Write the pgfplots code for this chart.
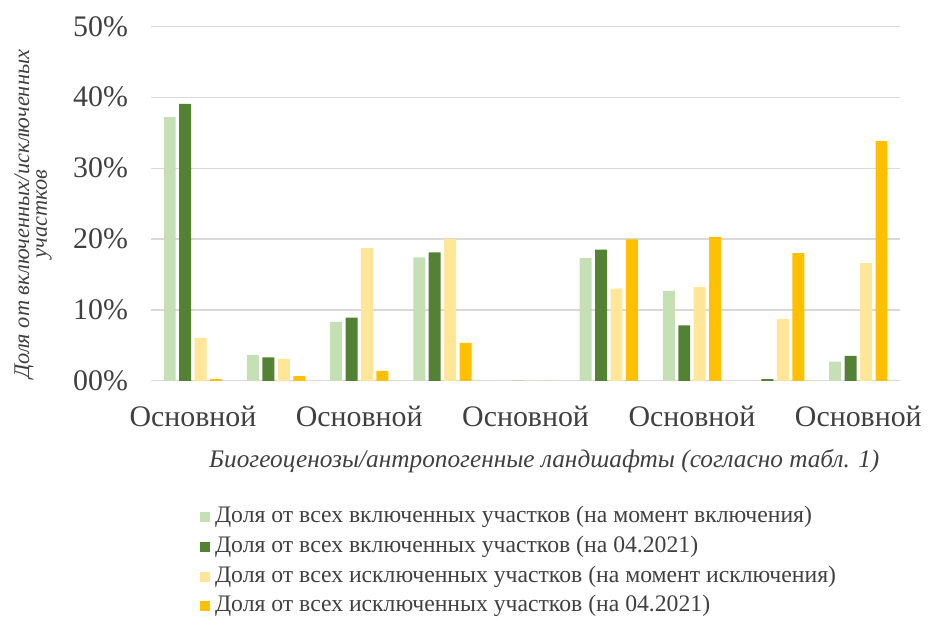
\documentclass[border=0pt]{standalone}
\usepackage{pgfplots}
\pgfplotsset{compat=1.18}
\usepackage{fontspec}
\setmainfont{Liberation Serif}
\definecolor{lgreen}{HTML}{C5E0B4}
\definecolor{dgreen}{HTML}{548235}
\definecolor{lyellow}{HTML}{FFE699}
\definecolor{gold}{HTML}{FFC000}
\definecolor{txt}{HTML}{404040}
\definecolor{gridc}{HTML}{D9D9D9}
\begin{document}
\begin{tikzpicture}
\begin{axis}[
  scale only axis,
  width=752pt, height=356pt,
  ybar=3.5pt, bar width=12pt,
  xmin=-0.5, xmax=8.5, ymin=0, ymax=50,
  xtick={0,2,4,6,8},
  xticklabels={Основной,Основной,Основной,Основной,Основной},
  ytick={0,10,20,30,40,50},
  yticklabels={00\%,10\%,20\%,30\%,40\%,50\%},
  tick style={draw=none},
  axis line style={draw=none},
  xmajorgrids=false, ymajorgrids=true,
  grid style={draw=gridc, line width=1.2pt},
  tick label style={text=txt, font=\fontsize{30}{31}\selectfont},
  yticklabel style={xshift=-20pt},
  xticklabel style={yshift=-18pt},
  every axis x label/.style={at={(axis description cs:0.525,0)}, anchor=center, yshift=-81pt, font=\itshape\fontsize{25.4}{27}\selectfont, text=txt},
  every axis y label/.style={at={(axis description cs:-0.158,0.47)}, rotate=90, anchor=center, align=center, font=\itshape\fontsize{22.5}{18}\selectfont, text=txt},
  xlabel={Биогеоценозы/антропогенные ландшафты (согласно табл. 1)},
  ylabel={Доля от включенных/исключенных\\участков},
  legend style={at={(axis description cs:0.47,0)}, anchor=north, xshift=16pt, yshift=-121pt, draw=none, fill=none, font=\fontsize{23.8}{25}\selectfont, text=txt, row sep=3pt, legend cell align=left,
    nodes={text height=17pt, text depth=6pt, inner sep=2pt}},
  legend image code/.code={\fill[#1] (0pt,-5pt) rectangle (10pt,5pt); \path (13pt,0pt);},
]
\addplot[fill=lgreen, draw=none] coordinates {(0,37.2) (1,3.65) (2,8.3) (3,17.4) (4,0) (5,17.3) (6,12.7) (7,0) (8,2.7)};
\addplot[fill=dgreen, draw=none] coordinates {(0,39.05) (1,3.3) (2,8.9) (3,18.1) (4,0) (5,18.5) (6,7.8) (7,0.25) (8,3.5)};
\addplot[fill=lyellow, draw=none] coordinates {(0,6.05) (1,3.1) (2,18.7) (3,20.0) (4,0) (5,13.0) (6,13.2) (7,8.7) (8,16.6)};
\addplot[fill=gold, draw=none] coordinates {(0,0.25) (1,0.65) (2,1.4) (3,5.35) (4,0) (5,19.95) (6,20.3) (7,18.0) (8,33.8)};
\legend{Доля от всех включенных участков (на момент включения),Доля от всех включенных участков (на 04.2021),Доля от всех исключенных участков (на момент исключения),Доля от всех исключенных участков (на 04.2021)}
\end{axis}
\path ([yshift=13pt]current bounding box.north);
\path ([yshift=-2pt]current bounding box.south);
\path ([xshift=-11pt]current bounding box.west);
\path ([xshift=3pt]current bounding box.east);
\end{tikzpicture}
\end{document}
